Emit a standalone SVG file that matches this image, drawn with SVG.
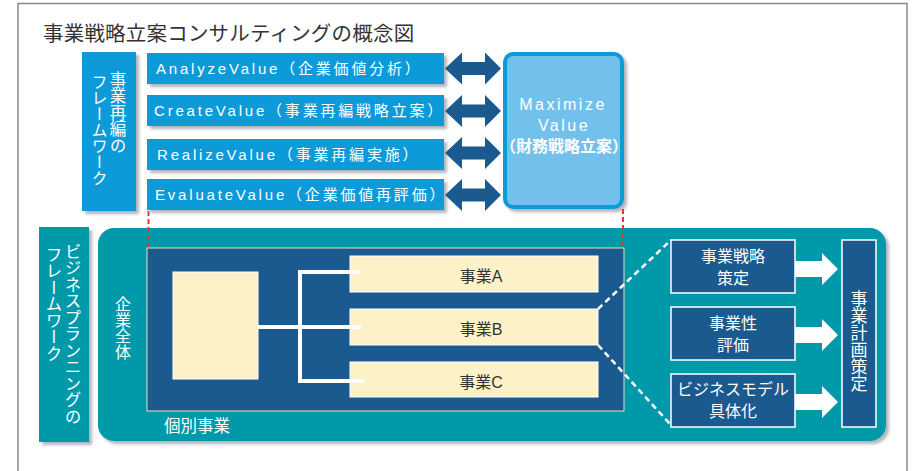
<svg xmlns="http://www.w3.org/2000/svg" width="918" height="471" viewBox="0 0 918 471">
  <defs>
    <filter id="shadow" x="-10%" y="-10%" width="130%" height="130%">
      <feDropShadow dx="3" dy="3" stdDeviation="1.5" flood-color="#7a8590" flood-opacity="0.6"/>
    </filter>
    <style>
      .jp { font-family: "Noto Sans CJK JP", "Noto Sans", sans-serif; }
      .val { font-family: "Liberation Sans", "Noto Sans CJK JP", sans-serif; font-size: 15px; fill: #ffffff; letter-spacing: 2.8px; }
      .vert { writing-mode: vertical-rl; font-family: "Noto Sans CJK JP", sans-serif; fill: #ffffff; }
      .blue { fill: #0b9ad8; }
      .dark { fill: #1b5a8f; }
      .teal { fill: #0399aa; }
      .cream { fill: #fdf1c8; }
      .wtxt { font-family: "Noto Sans CJK JP", sans-serif; font-size: 16px; fill: #ffffff; text-anchor: middle; }
      .btxt { font-family: "Liberation Sans", "Noto Sans CJK JP", sans-serif; font-size: 16px; fill: #333333; text-anchor: middle; }
      .redline { stroke: #e03a2e; stroke-width: 2; stroke-dasharray: 5 3; fill: none; }
      .wdash { stroke: #ffffff; stroke-width: 2.5; stroke-dasharray: 6 4; fill: none; }
      .wline { stroke: #ffffff; stroke-width: 4; fill: none; }
    </style>
  </defs>

  <rect width="918" height="471" fill="#ffffff"/>
  <!-- page frame -->
  <path d="M18 475 V3.5 H907 V475" fill="none" stroke="#8a8a8a" stroke-width="1.5"/>

  <text class="jp" x="43" y="41" font-size="20.5" letter-spacing="0.2" fill="#333333">事業戦略立案コンサルティングの概念図</text>

  <!-- restructuring framework label -->
  <g id="restructure-label">
    <rect x="82" y="52" width="54" height="159" class="blue" filter="url(#shadow)"/>
    <text class="vert" x="118" y="71" font-size="16.5">事業再編の</text>
    <text class="vert" x="99.5" y="74" font-size="16">フレームワーク</text>
  </g>

  <!-- value steps -->
  <g id="analyze">
    <rect x="147" y="53" width="297" height="31" class="blue" filter="url(#shadow)"/>
    <text class="val" x="156" y="74">AnalyzeValue（企業価値分析）</text>
  </g>
  <g id="create">
    <rect x="147" y="95" width="297" height="31" class="blue" filter="url(#shadow)"/>
    <text class="val" x="154" y="116">CreateValue（事業再編戦略立案）</text>
  </g>
  <g id="realize">
    <rect x="147" y="139" width="297" height="31" class="blue" filter="url(#shadow)"/>
    <text class="val" x="157" y="160">RealizeValue（事業再編実施）</text>
  </g>
  <g id="evaluate">
    <rect x="147" y="179" width="297" height="31" class="blue" filter="url(#shadow)"/>
    <text class="val" x="155" y="200">EvaluateValue（企業価値再評価）</text>
  </g>

  <!-- maximize value -->
  <g id="maximize">
    <rect x="505" y="54" width="117" height="153" rx="8" fill="#72c1ec" stroke="#0b9ad8" stroke-width="4" filter="url(#shadow)"/>
    <text x="563" y="110" text-anchor="middle" font-family="Liberation Sans, sans-serif" font-size="16" fill="#ffffff" letter-spacing="2.5">Maximize</text>
    <text x="564" y="131" text-anchor="middle" font-family="Liberation Sans, sans-serif" font-size="16" fill="#ffffff" letter-spacing="2.5">Value</text>
    <text x="564" y="152" text-anchor="middle" class="jp" font-size="16" font-weight="bold" fill="#ffffff">（財務戦略立案）</text>
  </g>

  <!-- bottom: business planning framework label -->
  <g id="planning-label">
    <rect x="39" y="227" width="50" height="215" class="teal" filter="url(#shadow)"/>
    <text class="vert" x="73" y="243" font-size="16.5">ビジネスプランニングの</text>
    <text class="vert" x="54" y="246" font-size="16.5">フレームワーク</text>
  </g>

  <!-- big teal panel -->
  <g id="planning-panel">
    <rect x="98" y="228" width="788" height="213" rx="16" class="teal" filter="url(#shadow)"/>
    <text class="vert" x="123" y="296" font-size="16">企業全体</text>
    <text class="jp" x="164" y="432" font-size="16.5" fill="#ffffff">個別事業</text>
  </g>

  <!-- company-wide block -->
  <g id="company">
    <rect x="147" y="248" width="477" height="163" class="dark" stroke="#e8e2c0" stroke-width="1"/>
  </g>
  <g id="corporate">
    <rect x="173" y="272" width="85" height="107" class="cream" stroke="#ffffff" stroke-width="1"/>
  </g>
  <g id="biz-a">
    <rect x="350" y="256" width="248" height="36" class="cream" stroke="#ffffff" stroke-width="1"/>
    <text class="btxt" x="481" y="282">事業A</text>
  </g>
  <g id="biz-b">
    <rect x="350" y="309" width="248" height="36" class="cream" stroke="#ffffff" stroke-width="1"/>
    <text class="btxt" x="481" y="335">事業B</text>
  </g>
  <g id="biz-c">
    <rect x="350" y="362" width="248" height="35" class="cream" stroke="#ffffff" stroke-width="1"/>
    <text class="btxt" x="481" y="388">事業C</text>
  </g>

  <!-- right-side planning steps -->
  <g id="strategy">
    <rect x="671" y="240" width="124" height="53" class="dark" stroke="#ffffff" stroke-width="1.5"/>
    <text class="wtxt" x="733" y="262">事業戦略</text>
    <text class="wtxt" x="733" y="284">策定</text>
  </g>
  <g id="feasibility">
    <rect x="671" y="307" width="124" height="53" class="dark" stroke="#ffffff" stroke-width="1.5"/>
    <text class="wtxt" x="733" y="329">事業性</text>
    <text class="wtxt" x="733" y="351">評価</text>
  </g>
  <g id="model">
    <rect x="671" y="374" width="124" height="53" class="dark" stroke="#ffffff" stroke-width="1.5"/>
    <text class="wtxt" x="733" y="395">ビジネスモデル</text>
    <text class="wtxt" x="733" y="417">具体化</text>
  </g>
  <g id="plan">
    <rect x="842" y="240" width="34" height="187" class="dark" stroke="#ffffff" stroke-width="1.5"/>
    <text class="vert" x="859" y="290" font-size="17">事業計画策定</text>
  </g>

  <!-- connectors -->
  <g id="connectors">
    <!-- double arrows between steps and maximize -->
    <g class="dark">
      <path d="M445 68.5 L462 52.5 V62 H485 V52.5 L501 68.5 L485 84.5 V75 H462 V84.5 Z"/>
      <path d="M445 111 L462 95 V104.5 H485 V95 L501 111 L485 127 V117.5 H462 V127 Z"/>
      <path d="M445 153 L462 137 V146.5 H485 V137 L501 153 L485 169 V159.5 H462 V169 Z"/>
      <path d="M445 195 L462 179 V188.5 H485 V179 L501 195 L485 211 V201.5 H462 V211 Z"/>
    </g>
    <!-- red dashed guides -->
    <line class="redline" x1="148.5" y1="211" x2="148.5" y2="247"/>
    <line class="redline" x1="623" y1="209" x2="623" y2="247"/>
    <!-- tree from corporate to businesses -->
    <path class="wline" d="M258 327 H300 M300 270 V383 M298 272 H360 M300 327 H361 M298 381 H364"/>
    <!-- zoom lines from 事業B -->
    <path class="wdash" d="M598 309 L671 240 M598 345 L670 424"/>
    <!-- white arrows to plan -->
    <g fill="#ffffff">
      <path d="M795 261 H822 V253 L838 269 L822 285 V277 H795 Z"/>
      <path d="M795 327 H822 V319 L838 335 L822 351 V343 H795 Z"/>
      <path d="M795 394 H822 V386 L838 402 L822 418 V410 H795 Z"/>
    </g>
  </g>
</svg>
